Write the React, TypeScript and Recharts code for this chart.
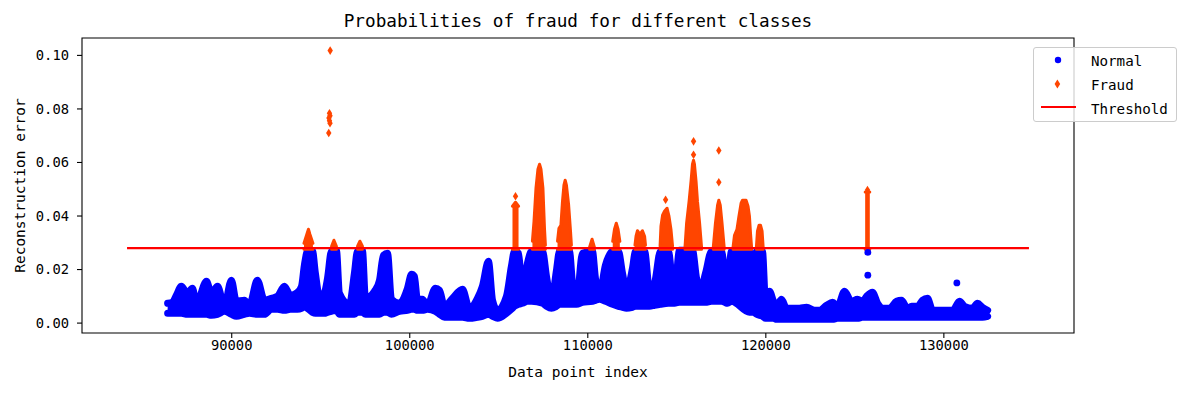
import React from "react";
import {
    ComposedChart,
    XAxis,
    YAxis,
    Area,
    Scatter,
    Line,
    Legend,
    ReferenceArea
} from "recharts";

const FONT = '"DejaVu Sans Mono", monospace';
const BLUE = "#0000ff";
const ORANGE = "#ff4500";
const RED = "#ff0000";

const xDomain = [81590, 137310];
const yDomain = [-0.0037, 0.1065];
const xTicks = [90000, 100000, 110000, 120000, 130000];
const yTicks = [0, 0.02, 0.04, 0.06, 0.08, 0.1];

const threshold = 0.028;
const thresholdX = [84120, 134780];

// dense band of normal points: index, lower edge, upper edge
const normalX = [
    86400, 86670, 86890, 87170, 87510, 87790, 88020, 88580, 88860, 89200,
    89590, 89980, 90260, 90710, 90990, 91440, 91840, 92230, 92570, 92960,
    93300, 93690, 93920, 94080, 94250, 94530, 94700, 94930, 95210, 95380,
    95600, 95880, 96050, 96610, 96890, 97060, 97340, 97510, 98020, 98300,
    98520, 98750, 98970, 99420, 99870, 100100, 100260, 100430, 100710, 100990,
    101440, 101670, 101950, 102400, 102960, 103350, 103800, 104080, 104420, 104650,
    104930, 105430, 105710, 105880, 106110, 106330, 106610, 106840, 107460, 107680,
    107960, 108240, 108410, 108970, 109140, 109370, 109700, 110260, 110430, 110660,
    110990, 111390, 111720, 111950, 112170, 112510, 112680, 113190, 113470, 113750,
    114080, 114530, 114700, 114870, 115150, 115880, 116110, 116330, 116610, 116950,
    117510, 117680, 117850, 118070, 119080, 119310, 119480, 119810, 119980, 120210,
    120430, 120600, 120880, 121160, 121890, 122290, 122740, 123020, 123410, 123750,
    124030, 124420, 124810, 125150, 125430, 125660, 125990, 126280, 126560, 126950,
    127340, 127620, 127960, 128190, 128520, 128800, 129080, 129370, 130490, 130880,
    131160, 131610, 131890, 132170, 132460
];
const normalLow = [
    0.00366, 0.00366, 0.00366, 0.00366, 0.00329, 0.00329, 0.00329, 0.00329, 0.00292, 0.00329,
    0.00441, 0.00329, 0.00254, 0.00329, 0.00366, 0.00329, 0.00329, 0.00516, 0.00516, 0.00478,
    0.00516, 0.00516, 0.00553, 0.00628, 0.00553, 0.00404, 0.00366, 0.00366, 0.00366, 0.00404,
    0.00441, 0.00478, 0.00329, 0.00329, 0.00329, 0.00404, 0.00404, 0.00329, 0.00329, 0.00329,
    0.00404, 0.00404, 0.00329, 0.00441, 0.00478, 0.00516, 0.00516, 0.00478, 0.00478, 0.00516,
    0.00441, 0.00329, 0.00217, 0.00217, 0.00217, 0.00179, 0.00217, 0.00254, 0.00329, 0.00254,
    0.00179, 0.00366, 0.00516, 0.00628, 0.00703, 0.0074, 0.00815, 0.00815, 0.0074, 0.00628,
    0.00553, 0.00628, 0.00703, 0.00703, 0.00703, 0.00703, 0.00778, 0.00815, 0.00852, 0.0089,
    0.00815, 0.00703, 0.00628, 0.00591, 0.00553, 0.00591, 0.00628, 0.00628, 0.00628, 0.00665,
    0.00703, 0.0074, 0.0074, 0.0074, 0.00778, 0.00778, 0.00778, 0.00778, 0.00778, 0.00815,
    0.00815, 0.00778, 0.0074, 0.00815, 0.00404, 0.00404, 0.00329, 0.00254, 0.00179, 0.00179,
    0.00179, 0.00142, 0.00142, 0.00142, 0.00142, 0.00142, 0.00142, 0.00142, 0.00142, 0.00142,
    0.00179, 0.00179, 0.00179, 0.00179, 0.00217, 0.00217, 0.00217, 0.00217, 0.00217, 0.00217,
    0.00217, 0.00217, 0.00217, 0.00217, 0.00217, 0.00217, 0.00217, 0.00217, 0.00217, 0.00217,
    0.00217, 0.00217, 0.00217, 0.00217, 0.00254
];
const normalHigh = [
    0.0074, 0.00778, 0.01039, 0.01376, 0.01114, 0.01301, 0.0074, 0.01562, 0.01114, 0.01376,
    0.00665, 0.016, 0.00815, 0.00852, 0.00665, 0.016, 0.00852, 0.00927, 0.01002, 0.01376,
    0.01039, 0.01151, 0.01376, 0.02161, 0.02684, 0.02721, 0.01862, 0.01002, 0.01151, 0.01675,
    0.02684, 0.02721, 0.01114, 0.00703, 0.01862, 0.02684, 0.02721, 0.00927, 0.01189, 0.016,
    0.02534, 0.02609, 0.0089, 0.0074, 0.01301, 0.01824, 0.01749, 0.0089, 0.0089, 0.00665,
    0.01301, 0.01226, 0.00628, 0.00927, 0.01263, 0.00553, 0.00927, 0.01376, 0.0231, 0.00852,
    0.00478, 0.01002, 0.02123, 0.02684, 0.02609, 0.01226, 0.02235, 0.02684, 0.02684, 0.01749,
    0.00852, 0.01974, 0.02684, 0.02684, 0.01488, 0.00852, 0.02609, 0.02684, 0.01675, 0.01114,
    0.02161, 0.02684, 0.02684, 0.01862, 0.01226, 0.02048, 0.02684, 0.02684, 0.01226, 0.01488,
    0.02684, 0.02684, 0.01862, 0.01114, 0.02721, 0.02721, 0.01675, 0.01226, 0.01862, 0.02684,
    0.02684, 0.01974, 0.01488, 0.02684, 0.02684, 0.01413, 0.02684, 0.02684, 0.00852, 0.01189,
    0.00815, 0.00628, 0.0089, 0.00553, 0.00553, 0.00591, 0.00478, 0.00478, 0.00665, 0.00778,
    0.00628, 0.01189, 0.00815, 0.0089, 0.00815, 0.01002, 0.01151, 0.0074, 0.00553, 0.00553,
    0.00815, 0.00852, 0.00553, 0.00628, 0.00628, 0.00852, 0.00927, 0.00478, 0.00478, 0.00815,
    0.00628, 0.00553, 0.0074, 0.00591, 0.00478
];

// isolated normal points
const normalDotX = [125730, 125730, 130730];
const normalDotY = [0.0264, 0.0179, 0.015];

// fraud columns above the threshold (null = gap between columns)
const fraudFloor = 0.0276;
const fraudX = [
    94060, 94220, 94310, 94390, 94560, 95000,
    95610, 95740, 95880, 96500,
    97070, 97200, 97340, 100000,
    105770, 105940, 106110, 106500,
    106890, 106980, 107090, 107200, 107290, 107370, 107480, 107570, 107620, 108000,
    108300, 108380, 108490, 108580, 108660, 108730, 108800, 108920, 109030, 109080, 109500,
    110100, 110240, 110370, 111000,
    111400, 111500, 111600, 111700, 111800, 112200,
    112650, 112710, 112790, 112930, 113070, 113190, 113240, 113700,
    114060, 114110, 114200, 114310, 114450, 114560, 114670, 114760, 115100,
    115460, 115550, 115690, 115800, 115880, 115940, 115990, 116080, 116160, 116280, 116390, 116800,
    117050, 117170, 117290, 117360, 117440, 117540, 117660, 117900,
    118160, 118240, 118380, 118490, 118610, 118690, 118890, 119000, 119080, 119140, 119200, 119350,
    119470, 119530, 119620, 119700, 119790, 119850, 122000,
    125580, 125840
];
const fraudTop = [
    0.02983, 0.03319, 0.03506, 0.03319, 0.02983, null,
    0.02871, 0.03095, 0.02871, null,
    0.02871, 0.03058, 0.02871, null,
    0.04366, 0.04515, 0.04366, null,
    0.03058, 0.03805, 0.05039, 0.05749, 0.05936, 0.05749, 0.05039, 0.03506, 0.02908, null,
    0.03058, 0.03544, 0.03656, 0.04553, 0.05151, 0.05338, 0.05151, 0.04441, 0.03431, 0.02908, null,
    0.02833, 0.03132, 0.02833, null,
    0.03058, 0.03506, 0.03731, 0.03506, 0.03058, null,
    0.02908, 0.03245, 0.0345, 0.03319, 0.0345, 0.03245, 0.02908, null,
    0.02871, 0.03618, 0.0403, 0.04179, 0.04291, 0.03992, 0.03506, 0.02871, null,
    0.02833, 0.03731, 0.04553, 0.05301, 0.05936, 0.06085, 0.05936, 0.05301, 0.04553, 0.03731, 0.02833, null,
    0.02833, 0.03731, 0.04403, 0.0459, 0.04403, 0.03731, 0.02833, null,
    0.02833, 0.03282, 0.03506, 0.03992, 0.04478, 0.0459, 0.0459, 0.04366, 0.03992, 0.03357, 0.02833, null,
    0.02833, 0.03431, 0.03656, 0.03656, 0.03431, 0.02833, null,
    0.049, 0.049
];

// isolated fraud points
const fraudDotX = [95530, 95490, 95520, 95460, 95490, 95520, 95450, 105940, 114370, 115940, 115940, 117360, 117360, 125710];
const fraudDotY = [0.1018, 0.0784, 0.0775, 0.0766, 0.0756, 0.0747, 0.071, 0.0474, 0.0461, 0.0679, 0.0629, 0.0645, 0.0526, 0.0497];

const bandData = normalX.map((x, i) => ({ x, band: [normalLow[i], normalHigh[i]] }));
const fraudData = fraudX.map((x, i) => ({ x, band: fraudTop[i] == null ? null : [fraudFloor, fraudTop[i]] }));
const normalDots = normalDotX.map((x, i) => ({ x, y: normalDotY[i] }));
const fraudDots = fraudDotX.map((x, i) => ({ x, y: fraudDotY[i] }));
const thresholdData = thresholdX.map((x) => ({ x, y: threshold }));

const Dot = (props: any) => <circle cx={props.cx} cy={props.cy} r={3.4} fill={BLUE} />;

const Diamond = (props: any) => {
    const { cx, cy } = props;
    return (
        <polygon
            points={`${cx},${cy - 4.3} ${cx + 2.7},${cy} ${cx},${cy + 4.3} ${cx - 2.7},${cy}`}
            fill={ORANGE}
        />
    );
};

function LegendBox() {
    return (
        <div
            style={{
                width: 144,
                height: 75,
                boxSizing: "border-box",
                border: "1px solid #cccccc",
                borderRadius: 3,
                background: "rgba(255,255,255,0.8)"
            }}
        >
            <svg width={142} height={73} style={{ display: "block" }}>
                <circle cx={24} cy={12} r={3.2} fill={BLUE} />
                <polygon points="23.4,31.5 26.2,36 23.4,40.5 20.6,36" fill={ORANGE} />
                <line x1={7} x2={42} y1={59} y2={59} stroke={RED} strokeWidth={2.2} />
                <g fontFamily={FONT} fontSize={14.2} fill="#000">
                    <text x={57} y={18.4}>Normal</text>
                    <text x={57} y={41.7}>Fraud</text>
                    <text x={57} y={66}>Threshold</text>
                </g>
            </svg>
        </div>
    );
}

export default function App() {
    const tick = { fill: "#000", fontSize: 13.8, fontFamily: FONT };
    return (
        <div style={{ position: "absolute", left: 0, top: 0, width: 1189, height: 394, background: "#fff" }}>
            <div
                style={{
                    position: "absolute",
                    left: 82,
                    top: 13,
                    width: 992,
                    textAlign: "center",
                    fontFamily: FONT,
                    fontSize: 17.7,
                    lineHeight: 1,
                    color: "#000"
                }}
            >
                Probabilities of fraud for different classes
            </div>
            <ComposedChart width={1189} height={394} margin={{ top: 38, right: 115, bottom: 14, left: 12 }}>
                <XAxis
                    type="number"
                    dataKey="x"
                    domain={xDomain}
                    ticks={xTicks}
                    allowDataOverflow
                    height={47}
                    axisLine={false}
                    tickSize={5}
                    tickMargin={2}
                    tickLine={{ stroke: "#000", strokeWidth: 1.1 }}
                    tick={tick}
                    label={{
                        value: "Data point index",
                        position: "insideBottom",
                        offset: 3,
                        style: { fontFamily: FONT, fontSize: 14.5, fill: "#000" }
                    }}
                />
                <YAxis
                    type="number"
                    dataKey="y"
                    domain={yDomain}
                    ticks={yTicks}
                    allowDataOverflow
                    width={70}
                    axisLine={false}
                    tickSize={5}
                    tickMargin={8}
                    tickLine={{ stroke: "#000", strokeWidth: 1.1 }}
                    tick={tick}
                    tickFormatter={(v: number) => v.toFixed(2)}
                    label={{
                        value: "Reconstruction error",
                        angle: -90,
                        position: "insideLeft",
                        offset: 8,
                        style: { textAnchor: "middle", fontFamily: FONT, fontSize: 14.5, fill: "#000" }
                    }}
                />
                <Area
                    data={bandData}
                    dataKey="band"
                    type="monotone"
                    fill={BLUE}
                    fillOpacity={1}
                    stroke={BLUE}
                    strokeWidth={7}
                    strokeLinejoin="round"
                    strokeLinecap="round"
                    dot={false}
                    activeDot={false}
                    isAnimationActive={false}
                    name="Normal"
                />
                <Scatter data={normalDots} shape={Dot} isAnimationActive={false} name="Normal dots" />
                <Area
                    data={fraudData}
                    dataKey="band"
                    type="linear"
                    fill={ORANGE}
                    fillOpacity={1}
                    stroke={ORANGE}
                    strokeWidth={3}
                    strokeLinejoin="round"
                    strokeLinecap="round"
                    dot={false}
                    activeDot={false}
                    isAnimationActive={false}
                    name="Fraud"
                />
                <Scatter data={fraudDots} shape={Diamond} isAnimationActive={false} name="Fraud dots" />
                <Line
                    data={thresholdData}
                    dataKey="y"
                    stroke={RED}
                    strokeWidth={2.2}
                    dot={false}
                    activeDot={false}
                    isAnimationActive={false}
                    name="Threshold"
                />
                <ReferenceArea
                    x1={xDomain[0]}
                    x2={xDomain[1]}
                    y1={yDomain[0]}
                    y2={yDomain[1]}
                    fill="none"
                    fillOpacity={0}
                    stroke="#000"
                    strokeWidth={1.1}
                    ifOverflow="visible"
                />
                <Legend
                    layout="vertical"
                    align="center"
                    verticalAlign="middle"
                    wrapperStyle={{ left: 1033, top: 47, width: 144, height: 75 }}
                    content={() => <LegendBox />}
                />
            </ComposedChart>
        </div>
    );
}
